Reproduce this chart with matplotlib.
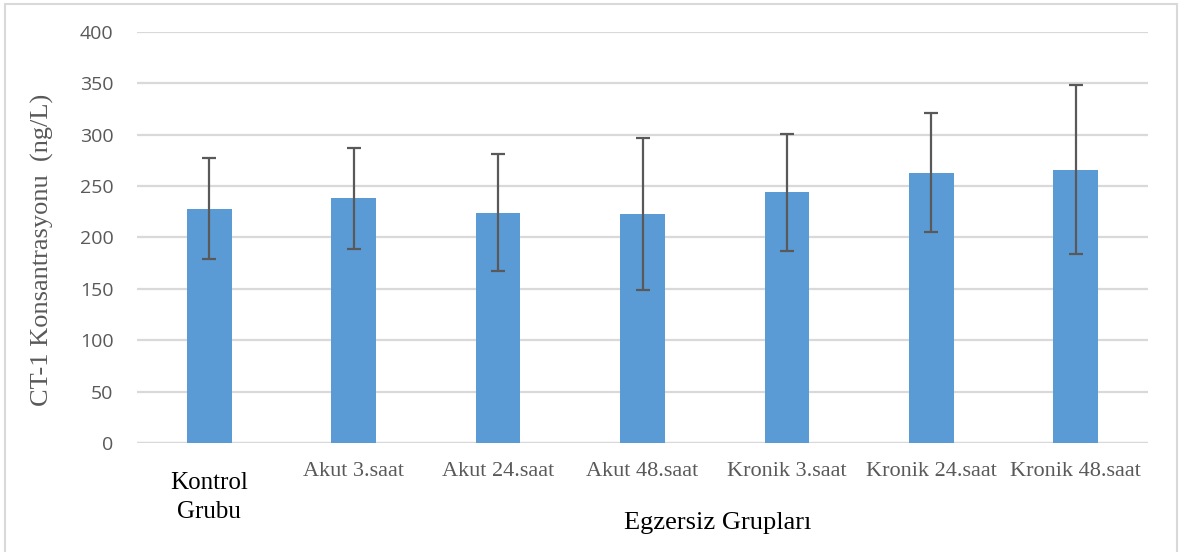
import numpy as np
import matplotlib.pyplot as plt
from matplotlib.patches import Rectangle

# group names and CT-1 means / error (ng/L)
groups = ['Kontrol\nGrubu', 'Akut 3.saat', 'Akut 24.saat', 'Akut 48.saat',
          'Kronik 3.saat', 'Kronik 24.saat', 'Kronik 48.saat']
means = [228, 238, 224, 223, 244, 263, 266]
errors = [49, 49, 57, 74, 57, 58, 82]
yticks = [0, 50, 100, 150, 200, 250, 300, 350, 400]

bar_color = '#5B9BD5'
grid_color = '#D9D9D9'
text_gray = '#595959'

fig = plt.figure(figsize=(11.79, 5.52), dpi=100)
ax = fig.add_axes([137/1179, 1 - 443/552, 1011/1179, 411/552])

x = np.arange(len(groups))
ax.bar(x, means, width=0.31, color=bar_color, zorder=2)
ax.errorbar(x, means, yerr=errors, fmt='none', ecolor=text_gray,
            elinewidth=1.6, capsize=5, capthick=1.6, zorder=3)

ax.set_xlim(-0.5, len(groups) - 0.5)
ax.set_ylim(0, 400)
ax.set_yticks(yticks)
ax.set_yticklabels([str(v) for v in yticks], fontfamily='Open Sans',
                   fontsize=14, color=text_gray)
ax.grid(axis='y', color=grid_color, linewidth=1.6, zorder=0)
ax.tick_params(axis='y', length=0, pad=17)
for s in ax.spines.values():
    s.set_visible(False)
ax.axhline(0, color=grid_color, linewidth=1.6, zorder=1)

ax.set_xticks(x)
ax.set_xticklabels(groups, fontfamily='Liberation Serif', fontsize=16,
                   color=text_gray)
ax.tick_params(axis='x', length=0, pad=14)
# first label is black, bigger and sits lower
first = ax.xaxis.get_major_ticks()[0]
first.set_pad(21)
lbl = ax.get_xticklabels()[0]
lbl.set_color('black')
lbl.set_fontsize(18)
lbl.set_linespacing(1.4)

ax.set_ylabel('CT-1 Konsantrasyonu  (ng/L)', fontfamily='Liberation Serif',
              fontsize=19, color=text_gray, va='center')
ax.yaxis.set_label_coords(-0.094, 0.47)
ax.set_xlabel('Egzersiz Grupları', fontfamily='Liberation Serif',
              fontsize=19, color='black', va='center')
ax.xaxis.set_label_coords(0.574, -0.195)

# light frame around the whole chart
fig.patches.append(Rectangle((5/1179, -0.05), 1172/1179, 1.05 - 4/552,
                             transform=fig.transFigure, fill=False,
                             edgecolor=grid_color, linewidth=1.5))

fig.savefig('out.png', dpi=100)
